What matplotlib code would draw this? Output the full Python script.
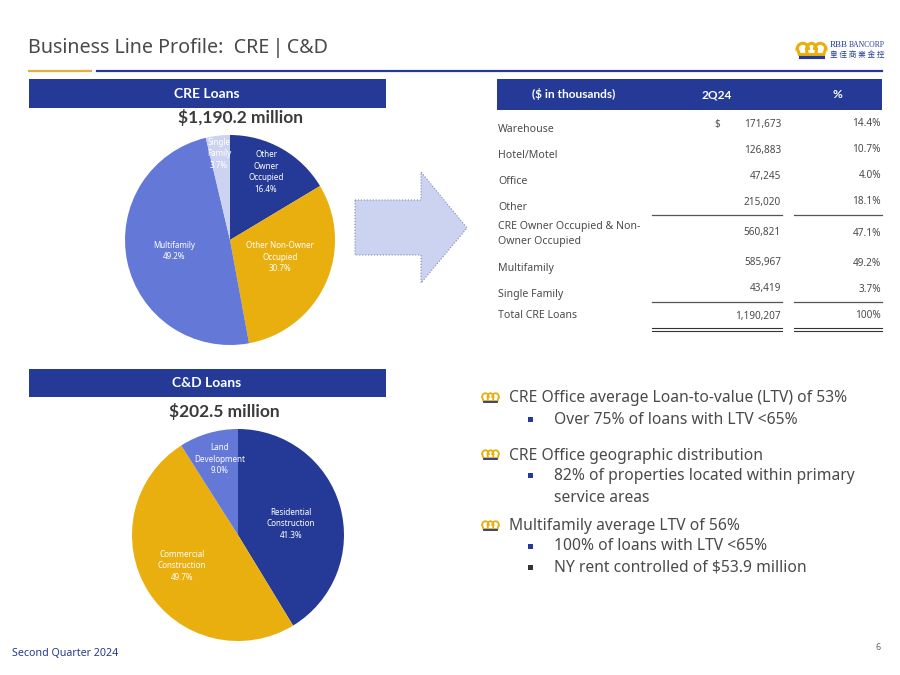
import matplotlib
matplotlib.use('Agg')
import matplotlib.pyplot as plt
import matplotlib.patches as mpatches

plt.rcParams['font.family'] = ['Noto Sans', 'DejaVu Sans']

NAVY = '#253a96'
GOLD = '#e9af0f'
BLUE = '#6478d8'
PALE = '#ccd3f0'
GREY = '#4a4a4a'
BOLD = 'Lato'

# pie data
cre_labels = ['Other\nOwner\nOccupied\n16.4%', 'Other Non-Owner\nOccupied\n30.7%', 'Multifamily\n49.2%', 'Single\nFamily\n3.7%']
cre_values = [16.4, 30.7, 49.2, 3.7]
cre_colors = [NAVY, GOLD, BLUE, PALE]
cre_label_xy = [(266, 172), (280, 257), (174, 251), (219, 154)]

cd_labels = ['Residential\nConstruction\n41.3%', 'Commercial\nConstruction\n49.7%', 'Land\nDevelopment\n9.0%']
cd_values = [41.3, 49.7, 9.0]
cd_colors = [NAVY, GOLD, BLUE]
cd_label_xy = [(291, 524), (182, 566), (220, 459)]

# table data
row_names = ['Warehouse', 'Hotel/Motel', 'Office', 'Other', 'CRE Owner Occupied & Non-\nOwner Occupied', 'Multifamily', 'Single Family', 'Total CRE Loans']
row_amounts = ['171,673', '126,883', '47,245', '215,020', '560,821', '585,967', '43,419', '1,190,207']
row_pcts = ['14.4%', '10.7%', '4.0%', '18.1%', '47.1%', '49.2%', '3.7%', '100%']
name_y = [129, 155, 181, 207, 234, 268, 294, 316]
value_y = [124, 150, 176, 202, 233, 263, 289, 316]

# bullets: text, level, y
bullet_text = ['CRE Office average Loan-to-value (LTV) of 53%', 'Over 75% of loans with LTV <65%',
               'CRE Office geographic distribution', '82% of properties located within primary\nservice areas',
               'Multifamily average LTV of 56%', '100% of loans with LTV <65%', 'NY rent controlled of $53.9 million']
bullet_level = [0, 1, 0, 1, 0, 1, 1]
bullet_y = [398.5, 419.5, 455.5, 487, 526.5, 546.5, 567.5]
bullet_color = [None, NAVY, None, NAVY, None, NAVY, '#333333']

fig = plt.figure(figsize=(9, 6.75), dpi=100)

# whole page in pixel coordinates
page = fig.add_axes([0, 0, 1, 1])
page.set_xlim(0, 900)
page.set_ylim(675, 0)
page.axis('off')


def crown(x, y, w=16, h=10):
    # little gold crown used for the logo and the bullets
    lw = w / 13
    for cx, aw in [(x + w * 0.2, w * 0.4), (x + w * 0.8, w * 0.4), (x + w * 0.5, w * 0.34)]:
        page.add_patch(mpatches.Ellipse((cx, y + h * 0.5), aw, h * 0.95, fill=False, edgecolor=GOLD, linewidth=lw))
    page.add_patch(mpatches.Rectangle((x - 1, y + h * 0.55), w + 2, h * 0.4, facecolor='white', edgecolor='none'))
    for cx in [x + w * 0.02, x + w * 0.33, x + w * 0.67, x + w * 0.98]:
        page.plot([cx, cx + (x + w * 0.5 - cx) * 0.12], [y + h * 0.5, y + h * 0.85], color=GOLD, lw=lw)
    page.plot([x + w * 0.1, x + w * 0.9], [y + h * 0.85, y + h * 0.85], color=GOLD, lw=lw)
    page.plot([x + w * 0.1, x + w * 0.9], [y + h * 1.05, y + h * 1.05], color=NAVY, lw=lw)


# title and rules
page.text(28, 48, 'Business Line Profile:  CRE\u2009|\u2009C&D', fontsize=14.2, color=GREY, va='center')
page.plot([29, 91], [71, 71], color='#e2b13c', lw=1.6)
page.plot([97, 882], [71, 71], color=NAVY, lw=1.6)

# logo
crown(797, 43, 29, 13)
page.text(830, 45, 'RBB', fontsize=6.5, color=NAVY, va='center', family='Liberation Serif')
page.text(849, 45, 'BANCORP', fontsize=5.5, color=NAVY, va='center', family='Liberation Serif')
page.text(830, 55, '皇 佳 商 業 金 控', fontsize=5.5, color=NAVY, va='center', family='Noto Sans CJK TC')

# section headers
for top, bottom, txt, total, ty in [(79, 108, 'CRE Loans', '$1,190.2 million', 118), (369, 397, 'C&D Loans', '$202.5 million', 412)]:
    page.add_patch(mpatches.Rectangle((29, top), 357, bottom - top, facecolor=NAVY, edgecolor='none'))
    page.text(207, (top + bottom) / 2, txt, fontsize=10, color='white', weight='bold', ha='center', va='center', family=BOLD)
    page.text(240 if ty == 118 else 224, ty, total, fontsize=12.5, color='#3a3a3a', weight='bold', ha='center', va='center', family=BOLD)


def draw_pie(cx, cy, r, values, colors):
    ax = fig.add_axes([(cx - r) / 900, 1 - (cy + r) / 675, 2 * r / 900, 2 * r / 675])
    ax.pie(values, colors=colors, startangle=90, counterclock=False, radius=1,
           wedgeprops={'linewidth': 0})
    ax.set_xlim(-1, 1)
    ax.set_ylim(-1, 1)


draw_pie(230, 240, 105, cre_values, cre_colors)
draw_pie(238, 535, 106, cd_values, cd_colors)

# labels go on a transparent layer above the pies
labels = fig.add_axes([0, 0, 1, 1], facecolor='none')
labels.set_xlim(0, 900)
labels.set_ylim(675, 0)
labels.axis('off')
for (x, y), txt in zip(cre_label_xy, cre_labels):
    labels.text(x, y, txt, fontsize=5.8, color='white', ha='center', va='center', linespacing=1.35)
for (x, y), txt in zip(cd_label_xy, cd_labels):
    labels.text(x, y, txt, fontsize=5.8, color='white', ha='center', va='center', linespacing=1.35)

# arrow
page.add_patch(mpatches.Polygon([(355, 200), (421, 200), (421, 172), (467, 228), (421, 283), (421, 255), (355, 255)],
                                closed=True, facecolor=PALE, edgecolor='#7f88b8', linewidth=0.8, linestyle=':'))

# table
page.add_patch(mpatches.Rectangle((497, 79), 385, 31, facecolor=NAVY, edgecolor='none'))
page.text(574, 94.5, '($ in thousands)', fontsize=8.6, color='white', weight='bold', ha='center', va='center', family=BOLD)
page.text(717, 94.5, '2Q24', fontsize=8.6, color='white', weight='bold', ha='center', va='center', family=BOLD)
page.text(837, 94.5, '%', fontsize=8.6, color='white', weight='bold', ha='center', va='center', family=BOLD)
for name, amt, pct, ny, vy in zip(row_names, row_amounts, row_pcts, name_y, value_y):
    page.text(498, ny, name, fontsize=7.6, color=GREY, va='center', linespacing=1.45)
    page.text(781, vy, amt, fontsize=7.2, color=GREY, ha='right', va='center')
    page.text(881, vy, pct, fontsize=7.2, color=GREY, ha='right', va='center')
page.text(714, 124, '$', fontsize=7.2, color=GREY, va='center')
for y in [215, 302]:
    page.plot([652, 782], [y, y], color='#555555', lw=0.9)
    page.plot([794, 882], [y, y], color='#555555', lw=0.9)
for y in [328, 330.5]:
    page.plot([652, 782], [y, y], color='#333333', lw=0.8)
    page.plot([794, 882], [y, y], color='#333333', lw=0.8)

# bullet list
for txt, level, y, col in zip(bullet_text, bullet_level, bullet_y, bullet_color):
    if level == 0:
        crown(482, y - 5.5, 17, 9)
        page.text(509, y, txt, fontsize=11.25, color=GREY, va='center')
    else:
        off = -11 if '\n' in txt else 0
        page.add_patch(mpatches.Rectangle((528, y + off - 3), 5, 5, facecolor=col, edgecolor='none'))
        page.text(554, y, txt, fontsize=11.25, color=GREY, va='center', linespacing=1.5)

# footer
page.text(12, 653, 'Second Quarter 2024', fontsize=7.7, color=NAVY, va='center')
page.text(881, 647, '6', fontsize=6.5, color='#666666', ha='right', va='center')

fig.savefig('out.png', dpi=100)
